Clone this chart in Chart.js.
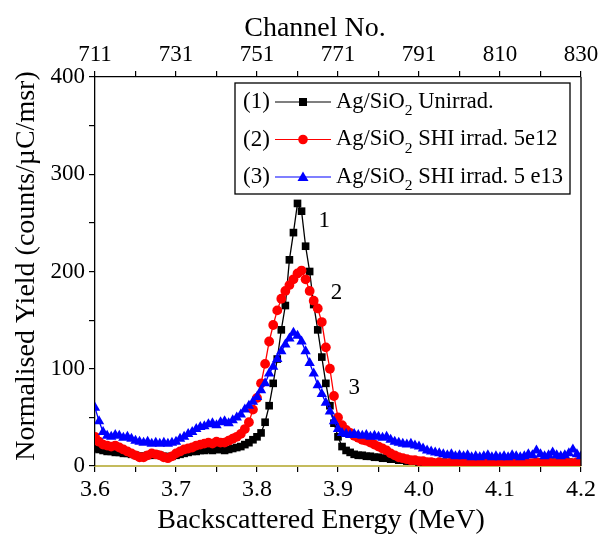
<!DOCTYPE html>
<html>
<head>
<meta charset="utf-8">
<script src="https://cdn.jsdelivr.net/npm/chart.js@4.4.1/dist/chart.umd.min.js"></script>
<style>
  html, body { margin: 0; padding: 0; background: #fff; }
  #c { display: block; }
</style>
</head>
<body>
<canvas id="c" width="602" height="538"></canvas>
<script>
// backscattered energy of each channel (MeV)
const energy = [
  3.600, 3.605, 3.610, 3.615, 3.620, 3.625, 3.630, 3.635, 3.640, 3.645,
  3.650, 3.655, 3.660, 3.665, 3.670, 3.675, 3.680, 3.685, 3.690, 3.695,
  3.700, 3.705, 3.710, 3.715, 3.720, 3.725, 3.730, 3.735, 3.740, 3.745,
  3.750, 3.755, 3.760, 3.765, 3.770, 3.775, 3.780, 3.785, 3.790, 3.795,
  3.800, 3.805, 3.810, 3.815, 3.820, 3.825, 3.830, 3.835, 3.840, 3.845,
  3.850, 3.855, 3.860, 3.865, 3.870, 3.875, 3.880, 3.885, 3.890, 3.895,
  3.900, 3.905, 3.910, 3.915, 3.920, 3.925, 3.930, 3.935, 3.940, 3.945,
  3.950, 3.955, 3.960, 3.965, 3.970, 3.975, 3.980, 3.985, 3.990, 3.995,
  4.000, 4.005, 4.010, 4.015, 4.020, 4.025, 4.030, 4.035, 4.040, 4.045,
  4.050, 4.055, 4.060, 4.065, 4.070, 4.075, 4.080, 4.085, 4.090, 4.095,
  4.100, 4.105, 4.110, 4.115, 4.120, 4.125, 4.130, 4.135, 4.140, 4.145,
  4.150, 4.155, 4.160, 4.165, 4.170, 4.175, 4.180, 4.185, 4.190, 4.195,
  4.200
];

// (1) Ag/SiO2 unirradiated
const unirrad = [
  18, 17, 16, 15, 15, 14, 14, 13, 13, 12,
  11, 10, 10, 11, 11, 12, 11, 10, 9, 10,
  11, 12, 13, 14, 15, 15, 16, 16, 17, 16,
  17, 17, 16, 17, 18, 19, 20, 22, 24, 27,
  30, 34, 45, 62, 85, 110, 140, 165, 212, 240,
  270, 262, 226, 200, 166, 140, 112, 85, 62, 44,
  30, 20, 16, 14, 12, 11, 11, 10, 10, 9,
  9, 8, 8, 7, 7, 6, 6, 5, 5, 5,
  4, 4, 3, 4, 3, 3, 4, 3, 3, 4,
  3, 3, 4, 3, 3, 3, 4, 3, 3, 4,
  3, 3, 3, 4, 3, 3, 4, 3, 3, 3,
  4, 3, 3, 4, 3, 3, 3, 4, 3, 3,
  4
];

// (2) SHI irradiated 5e12
const irrad5e12 = [
  30, 25, 22, 21, 20, 21, 19, 17, 15, 13,
  11, 9, 9, 11, 13, 12, 11, 9, 8, 10,
  13, 15, 17, 18, 19, 21, 22, 23, 24, 23,
  25, 24, 24, 26, 28, 30, 33, 38, 45, 58,
  70, 85, 105, 128, 145, 160, 172, 180, 186, 192,
  198, 201, 192, 180, 170, 162, 148, 122, 100, 72,
  50, 42, 37, 34, 31, 29, 27, 26, 24, 22,
  20, 18, 16, 13, 11, 9, 8, 7, 6, 6,
  5, 5, 4, 4, 3, 4, 3, 3, 4, 3,
  3, 4, 3, 3, 3, 4, 3, 3, 4, 3,
  3, 3, 4, 3, 3, 4, 3, 3, 3, 4,
  3, 3, 4, 3, 3, 3, 4, 3, 3, 4,
  3
];

// (3) SHI irradiated 5e13
const irrad5e13 = [
  60, 46, 35, 31, 30, 32, 31, 29, 30, 28,
  26, 25, 24, 25, 23, 24, 23, 24, 23, 24,
  25, 28, 30, 33, 35, 38, 40, 41, 43, 44,
  42, 45, 46, 44, 47, 50, 53, 58, 62, 66,
  71, 78, 85, 95, 102, 110, 118, 125, 131, 137,
  134, 128, 118, 106, 95, 83, 74, 65, 56, 46,
  38, 34, 33, 32, 33, 32, 31, 32, 30, 31,
  30, 29, 30, 27, 25, 24, 23, 22, 23, 21,
  20, 18, 16, 15, 14, 13, 12, 11, 12, 10,
  11, 10, 11, 9, 10, 9, 10, 11, 9, 10,
  9, 10, 9, 11, 10, 9, 10, 12, 11, 16,
  12, 10, 11, 14, 11, 10, 11, 13, 17, 12,
  10
];

const seriesNames = ['Ag/SiO₂ Unirrad.', 'Ag/SiO₂ SHI irrad. 5e12', 'Ag/SiO₂ SHI irrad. 5 e13'];
const seriesTags = ['(1)', '(2)', '(3)'];
const seriesColors = ['#000000', '#ff0000', '#0000ff'];
const seriesMarkers = ['rect', 'circle', 'triangle'];
const channelTicks = ['711', '731', '751', '771', '791', '810', '830'];

// peak labels, placed in data units
const peakLabels = ['1', '2', '3'];
const peakLabelAt = [[3.883, 252], [3.898, 178], [3.920, 80]];

const xTitle = 'Backscattered Energy (MeV)';
const xTopTitle = 'Channel No.';
const yTitle = 'Normalised Yield (counts/µC/msr)';

const FONT = "'Liberation Serif', 'Times New Roman', serif";

const toPoints = (vals) => energy.map((e, i) => ({ x: e, y: vals[i] }));
const allSeries = [unirrad, irrad5e12, irrad5e13];

const datasets = allSeries.map((vals, i) => ({
  label: seriesNames[i],
  data: toPoints(vals),
  borderColor: seriesColors[i],
  backgroundColor: seriesColors[i],
  borderWidth: 1.3,
  pointStyle: seriesMarkers[i],
  pointRadius: [5.4, 4.9, 6][i],
  pointBorderWidth: 0,
  pointHoverRadius: 0,
  tension: 0,
  order: 3 - i
}));

const isMajor = (v, step) => Math.abs(v / step - Math.round(v / step)) < 1e-6;

const framePlugin = {
  id: 'frame',
  afterDraw(chart) {
    const { ctx, chartArea: a } = chart;
    ctx.save();
    ctx.strokeStyle = '#000';
    ctx.lineWidth = 1.3;
    ctx.beginPath();
    ctx.moveTo(a.right, a.top);
    ctx.lineTo(a.right, a.bottom);
    ctx.stroke();
    // axis titles
    ctx.fillStyle = '#000';
    ctx.font = '28px ' + FONT;
    ctx.textAlign = 'center';
    ctx.textBaseline = 'middle';
    ctx.fillText(xTopTitle, a.left + 220, a.top - 48);
    ctx.fillText(xTitle, a.left + 226, a.bottom + 55);
    ctx.translate(27, a.top + 189);
    ctx.rotate(-Math.PI / 2);
    ctx.fillText(yTitle, 0, 0);
    ctx.restore();
  }
};

const peakLabelPlugin = {
  id: 'peakLabels',
  afterDatasetsDraw(chart) {
    const { ctx, scales } = chart;
    ctx.save();
    ctx.fillStyle = '#000';
    ctx.font = '23px ' + FONT;
    ctx.textAlign = 'center';
    ctx.textBaseline = 'middle';
    peakLabels.forEach((t, i) => {
      ctx.fillText(t, scales.x.getPixelForValue(peakLabelAt[i][0]), scales.y.getPixelForValue(peakLabelAt[i][1]));
    });
    ctx.restore();
  }
};

function drawMarker(ctx, style, x, y, color) {
  ctx.fillStyle = color;
  ctx.beginPath();
  if (style === 'rect') {
    ctx.rect(x - 4, y - 4, 8, 8);
  } else if (style === 'circle') {
    ctx.arc(x, y, 4.8, 0, Math.PI * 2);
  } else {
    ctx.moveTo(x, y - 5.5);
    ctx.lineTo(x + 5.5, y + 4);
    ctx.lineTo(x - 5.5, y + 4);
    ctx.closePath();
  }
  ctx.fill();
}

const boxLegendPlugin = {
  id: 'boxLegend',
  afterDraw(chart) {
    const { ctx, chartArea: a } = chart;
    const left = a.left + 140, top = a.top + 6, w = 335, h = 111;
    ctx.save();
    ctx.fillStyle = '#fff';
    ctx.fillRect(left, top, w, h);
    ctx.strokeStyle = '#000';
    ctx.lineWidth = 1.3;
    ctx.strokeRect(left, top, w, h);
    ctx.textBaseline = 'middle';
    seriesNames.forEach((name, i) => {
      const y = top + 19 + i * 37.5;
      ctx.fillStyle = '#000';
      ctx.font = '23px ' + FONT;
      ctx.fillText(seriesTags[i], left + 8, y);
      ctx.strokeStyle = seriesColors[i];
      ctx.lineWidth = 1.2;
      ctx.beginPath();
      ctx.moveTo(left + 40, y);
      ctx.lineTo(left + 96, y);
      ctx.stroke();
      drawMarker(ctx, seriesMarkers[i], left + 68, y, seriesColors[i]);
      const parts = name.split('₂');
      let x = left + 101;
      ctx.fillStyle = '#000';
      ctx.font = '22.5px ' + FONT;
      ctx.fillText(parts[0], x, y);
      x += ctx.measureText(parts[0]).width;
      ctx.font = '15.5px ' + FONT;
      ctx.fillText('2', x, y + 9);
      x += ctx.measureText('2').width;
      ctx.font = '22.5px ' + FONT;
      ctx.fillText(parts[1], x, y);
    });
    ctx.restore();
  }
};

const tickGrid = {
  display: true,
  drawOnChartArea: false,
  drawTicks: true,
  tickLength: 6,
  color: '#000',
  lineWidth: 1.2
};

new Chart(document.getElementById('c'), {
  type: 'line',
  data: { datasets },
  options: {
    responsive: false,
    animation: false,
    layout: { padding: { left: 0, right: 21, top: 0, bottom: 0 } },
    plugins: {
      legend: { display: false },
      tooltip: { enabled: false }
    },
    scales: {
      x: {
        type: 'linear',
        position: 'bottom',
        min: 3.6,
        max: 4.2,
        grid: tickGrid,
        border: { display: true, color: '#c4bb5c', width: 2 },
        ticks: {
          stepSize: 0.05,
          autoSkip: false,
          maxRotation: 0,
          padding: 3,
          color: '#000',
          font: { family: FONT, size: 24 },
          callback: (v) => isMajor(v, 0.1) ? v.toFixed(1) : ''
        },
        afterFit: (s) => { s.height = 72; }
      },
      xTop: {
        type: 'linear',
        position: 'top',
        min: 3.6,
        max: 4.2,
        grid: tickGrid,
        border: { display: true, color: '#000', width: 1.3 },
        ticks: {
          stepSize: 0.05,
          autoSkip: false,
          maxRotation: 0,
          padding: 2,
          color: '#000',
          font: { family: FONT, size: 23 },
          callback: (v) => isMajor(v, 0.1) ? channelTicks[Math.round((v - 3.6) / 0.1)] : ''
        },
        afterFit: (s) => { s.height = 77; }
      },
      y: {
        type: 'linear',
        position: 'left',
        min: 0,
        max: 400,
        grid: tickGrid,
        border: { display: true, color: '#000', width: 1.3 },
        ticks: {
          stepSize: 50,
          autoSkip: false,
          padding: 4,
          color: '#000',
          font: { family: FONT, size: 23 },
          callback: (v) => v % 100 === 0 ? String(v) : ''
        },
        afterFit: (s) => { s.width = 95; }
      }
    }
  },
  plugins: [framePlugin, peakLabelPlugin, boxLegendPlugin]
});
</script>
</body>
</html>
